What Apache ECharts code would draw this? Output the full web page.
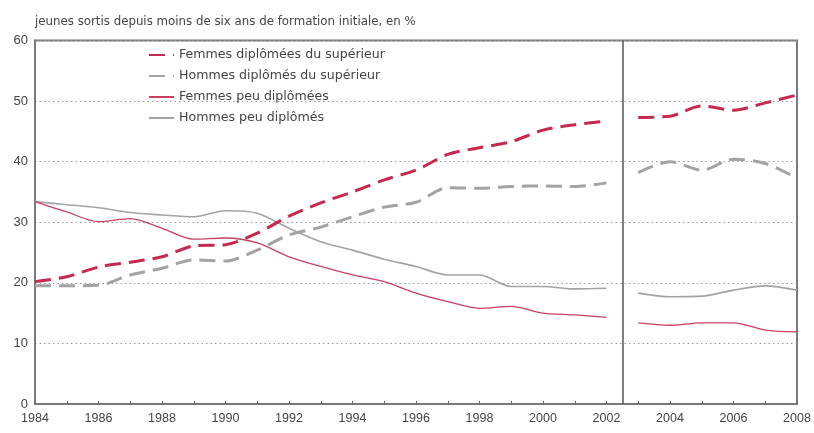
<!DOCTYPE html>
<html>
<head>
<meta charset="utf-8">
<script src="https://cdn.jsdelivr.net/npm/echarts@6/dist/echarts.min.js"></script>
<style>html,body{margin:0;padding:0;background:#fff;}#c{width:814px;height:433px;}</style>
</head>
<body>
<div id="c"></div>
<script>
var title = 'jeunes sortis depuis moins de six ans de formation initiale, en %';
var years = [1984,1985,1986,1987,1988,1989,1990,1991,1992,1993,1994,1995,1996,1997,1998,1999,2000,2001,2002,2003,2004,2005,2006,2007,2008];
var seriesNames = ['Femmes diplômées du supérieur','Hommes diplômés du supérieur','Femmes peu diplômées','Hommes peu diplômés'];
var femmesSup = [20.2,21.0,22.6,23.4,24.3,26.1,26.3,28.2,31.0,33.2,35.0,37.0,38.6,41.2,42.3,43.3,45.2,46.1,46.7,47.3,47.5,49.2,48.5,49.7,51.0];
var hommesSup = [19.5,19.5,19.6,21.3,22.4,23.8,23.6,25.4,27.9,29.2,30.9,32.5,33.3,35.7,35.6,35.9,36.0,35.9,36.5,38.2,40.0,38.6,40.4,39.7,37.3];
var femmesPeu = [33.4,31.7,30.1,30.6,29.0,27.2,27.4,26.6,24.3,22.7,21.3,20.2,18.3,16.9,15.8,16.1,15.0,14.7,14.3,13.4,13.0,13.4,13.4,12.2,11.9];
var hommesPeu = [33.4,32.9,32.4,31.6,31.2,30.9,31.9,31.5,29.0,26.8,25.4,23.9,22.7,21.3,21.3,19.4,19.4,19.0,19.1,18.3,17.7,17.8,18.8,19.5,18.8];
var breakYear = 2002.5;
var yTicks = [0,10,20,30,40,50,60];

function toPairs(vals){
  var out = [];
  for (var i = 0; i < years.length; i++) {
    if (years[i] > breakYear && years[i-1] < breakYear) out.push([breakYear, null]);
    out.push([years[i], vals[i]]);
  }
  return out;
}

var chart = echarts.init(document.getElementById('c'), null, {renderer:'canvas'});
var font = 'Liberation Sans, Arial, sans-serif';
var wfont = 'DejaVu Sans, sans-serif';
chart.setOption({
  animation: false,
  backgroundColor: '#fff',
  title: {
    text: title, left: 30, top: 11,
    textStyle: {fontFamily: wfont, fontSize: 11.8, fontWeight: 'normal', color: '#444'}
  },
  grid: {left: 35, right: 17, top: 40.5, bottom: 29, show: true, borderColor: '#7a7a7a', borderWidth: 2, containLabel: false},
  legend: {
    orient: 'vertical', left: 143, top: 43.5, itemWidth: 25, itemHeight: 12, itemGap: 8,
    itemStyle: {opacity: 0},
    textStyle: {fontFamily: wfont, fontSize: 12.6, color: '#444'},
    data: seriesNames
  },
  xAxis: {
    type: 'value', min: 1984, max: 2008, interval: 1,
    axisLine: {show: true, lineStyle: {color: '#7a7a7a', width: 2}},
    axisTick: {show: true, inside: true, length: 3, lineStyle: {color: '#666'}},
    splitLine: {show: false},
    axisLabel: {
      fontFamily: font, fontSize: 12.5, color: '#444', margin: 8,
      formatter: function(v){ return (v % 2 === 0) ? String(v) : ''; }
    }
  },
  yAxis: {
    type: 'value', min: yTicks[0], max: yTicks[yTicks.length-1], interval: 10,
    axisLine: {show: true, lineStyle: {color: '#7a7a7a', width: 2}},
    axisTick: {show: false},
    axisLabel: {fontFamily: font, fontSize: 13, color: '#444', margin: 7},
    splitLine: {show: true, lineStyle: {color: '#9a9a9a', width: 1, type: [1.5, 3]}}
  },
  series: [
    {name: seriesNames[0], type: 'line', data: toPairs(femmesSup), symbol: 'none', smooth: 0.3, connectNulls: false,
     lineStyle: {color: '#c7284f', width: 3, type: [16, 8]}, itemStyle: {color: '#c7284f'}, z: 5,
     markLine: {silent: true, symbol: ['none','none'], label: {show: false},
       lineStyle: {color: '#555', width: 1.5, type: 'solid'}, data: [{xAxis: breakYear}]}},
    {name: seriesNames[1], type: 'line', data: toPairs(hommesSup), symbol: 'none', smooth: 0.3, connectNulls: false,
     lineStyle: {color: '#a3a3a3', width: 3, type: [16, 8]}, itemStyle: {color: '#a3a3a3'}, z: 4},
    {name: seriesNames[2], type: 'line', data: toPairs(femmesPeu), symbol: 'none', smooth: 0.3, connectNulls: false,
     lineStyle: {color: '#c94061', width: 1.3}, itemStyle: {color: '#c94061'}, z: 3},
    {name: seriesNames[3], type: 'line', data: toPairs(hommesPeu), symbol: 'none', smooth: 0.3, connectNulls: false,
     lineStyle: {color: '#a3a3a3', width: 1.6}, itemStyle: {color: '#a3a3a3'}, z: 2}
  ]
});
</script>
</body>
</html>
